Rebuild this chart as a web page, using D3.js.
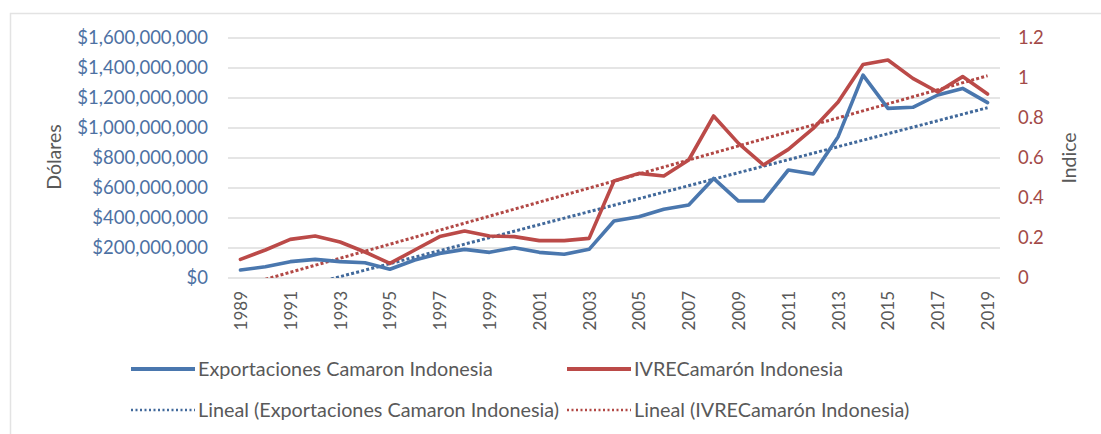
<!DOCTYPE html>
<html>
<head>
<meta charset="utf-8">
<script src="https://cdn.jsdelivr.net/npm/d3@7"></script>
<style>
  html, body { margin: 0; padding: 0; background: #ffffff; }
  svg { display: block; font-family: Lato, "Open Sans", sans-serif; }
</style>
</head>
<body>
<svg id="chart" width="1101" height="434"></svg>
<script>
// Years on the category axis
const years = [1989, 1990, 1991, 1992, 1993, 1994, 1995, 1996, 1997, 1998, 1999,
               2000, 2001, 2002, 2003, 2004, 2005, 2006, 2007, 2008, 2009,
               2010, 2011, 2012, 2013, 2014, 2015, 2016, 2017, 2018, 2019];

// Shrimp exports from Indonesia, US dollars
const exportaciones = [53e6, 75e6, 109e6, 124e6, 109e6, 102e6, 58e6, 120e6, 164e6, 191e6, 171e6,
                       202e6, 171e6, 158e6, 191e6, 380e6, 409e6, 458e6, 487e6, 664e6, 513e6,
                       513e6, 720e6, 693e6, 942e6, 1353e6, 1131e6, 1138e6, 1220e6, 1264e6, 1169e6];

// IVRE index for Indonesian shrimp
const ivre = [0.093, 0.14, 0.193, 0.21, 0.18, 0.13, 0.073, 0.14, 0.207, 0.235, 0.21,
              0.207, 0.187, 0.187, 0.198, 0.485, 0.523, 0.51, 0.59, 0.81, 0.673,
              0.565, 0.643, 0.748, 0.88, 1.068, 1.09, 0.998, 0.93, 1.007, 0.92];

// Axis ticks
const leftTicks = [0, 200e6, 400e6, 600e6, 800e6, 1000e6, 1200e6, 1400e6, 1600e6];
const rightTicks = [0, 0.2, 0.4, 0.6, 0.8, 1, 1.2];
const yearLabels = years.filter((d, i) => i % 2 === 0);

// Legend entries
const seriesNames = ["Exportaciones Camaron Indonesia", "IVRECamarón Indonesia"];
const trendNames = ["Lineal (Exportaciones Camaron Indonesia)", "Lineal (IVRECamarón Indonesia)"];

const BLUE = "#4a77ae";
const RED = "#bb4a48";
const BLUE_DOT = "#41699b";
const RED_DOT = "#b24845";
const GRID = "#dcdcdc";
const TEXT = "#595959";

const plot = { left: 228, right: 1000, top: 38, bottom: 278 };

const svg = d3.select("#chart");

// Outer frame (top and left edges visible)
svg.append("path")
  .attr("d", "M10.5,434 V13.5 H1101")
  .attr("fill", "none")
  .attr("stroke", "#e3e3e3")
  .attr("stroke-width", 1.5);

const x = d3.scalePoint().domain(years).range([plot.left, plot.right]).padding(0.5);
const yL = d3.scaleLinear().domain([0, 1.6e9]).range([plot.bottom, plot.top]);
const yR = d3.scaleLinear().domain([0, 1.2]).range([plot.bottom, plot.top]);

// Horizontal gridlines
svg.append("g")
  .selectAll("line")
  .data(leftTicks)
  .join("line")
  .attr("x1", plot.left).attr("x2", plot.right)
  .attr("y1", d => yL(d)).attr("y2", d => yL(d))
  .attr("stroke", GRID)
  .attr("stroke-width", 1.5);

// Left axis labels
const fmtDollar = v => "$" + d3.format(",")(v);
const leftAxis = svg.append("g")
  .attr("transform", `translate(${plot.left - 20},0)`)
  .call(d3.axisLeft(yL).tickValues(leftTicks).tickFormat(fmtDollar).tickSize(0).tickPadding(0));
leftAxis.select(".domain").remove();
leftAxis.selectAll("text")
  .attr("fill", "#4d71a3")
  .attr("font-size", 18.5)
  .attr("font-family", "Lato, sans-serif");

// Right axis labels
const rightAxis = svg.append("g")
  .attr("transform", `translate(${plot.right + 18},0)`)
  .call(d3.axisRight(yR).tickValues(rightTicks).tickFormat(d3.format("")).tickSize(0).tickPadding(0));
rightAxis.select(".domain").remove();
rightAxis.selectAll("text")
  .attr("fill", "#a34a48")
  .attr("font-size", 18.5)
  .attr("font-family", "Lato, sans-serif");

// Category axis: every other year, rotated
const bottomAxis = svg.append("g")
  .attr("transform", `translate(0,${plot.bottom})`)
  .call(d3.axisBottom(x).tickValues(yearLabels).tickSize(0).tickPadding(0));
bottomAxis.select(".domain").remove();
bottomAxis.selectAll("text")
  .attr("fill", TEXT)
  .attr("font-size", 17)
  .attr("font-family", "Lato, sans-serif")
  .attr("text-anchor", "end")
  .attr("dy", "0.35em")
  .attr("transform", "translate(0,13) rotate(-90)")
  .attr("x", 0).attr("y", 0);

// Axis titles
svg.append("text")
  .attr("transform", `translate(61,157) rotate(-90)`)
  .attr("text-anchor", "middle")
  .attr("fill", TEXT)
  .attr("font-size", 19.5)
  .text("Dólares");

svg.append("text")
  .attr("transform", `translate(1076,158) rotate(-90)`)
  .attr("text-anchor", "middle")
  .attr("fill", TEXT)
  .attr("font-size", 19.5)
  .text("Indice");

// Least-squares linear fit over the category index
function linearFit(values) {
  const n = values.length;
  const xs = d3.range(n);
  const mx = d3.mean(xs), my = d3.mean(values);
  let sxy = 0, sxx = 0;
  xs.forEach((xi, i) => { sxy += (xi - mx) * (values[i] - my); sxx += (xi - mx) * (xi - mx); });
  const slope = sxy / sxx;
  const intercept = my - slope * mx;
  return [intercept, intercept + slope * (n - 1)];
}

// Clip trendlines to the plot area
svg.append("defs").append("clipPath").attr("id", "plotClip")
  .append("rect")
  .attr("x", plot.left).attr("y", plot.top - 5)
  .attr("width", plot.right - plot.left).attr("height", plot.bottom - plot.top + 5);

const trendG = svg.append("g").attr("clip-path", "url(#plotClip)");

const fitExp = linearFit(exportaciones);
const fitIvre = linearFit(ivre);
const first = years[0], last = years[years.length - 1];

trendG.append("line")
  .attr("x1", x(first)).attr("y1", yL(fitExp[0]))
  .attr("x2", x(last)).attr("y2", yL(fitExp[1]))
  .attr("stroke", BLUE_DOT).attr("stroke-width", 3)
  .attr("stroke-dasharray", "3,2.2");

trendG.append("line")
  .attr("x1", x(first)).attr("y1", yR(fitIvre[0]))
  .attr("x2", x(last)).attr("y2", yR(fitIvre[1]))
  .attr("stroke", RED_DOT).attr("stroke-width", 3)
  .attr("stroke-dasharray", "3,2.2");

// Series lines
const lineL = d3.line().x((d, i) => x(years[i])).y(d => yL(d));
const lineR = d3.line().x((d, i) => x(years[i])).y(d => yR(d));

svg.append("path")
  .datum(exportaciones)
  .attr("d", lineL)
  .attr("fill", "none")
  .attr("stroke", BLUE).attr("stroke-width", 3.6)
  .attr("stroke-linejoin", "round").attr("stroke-linecap", "round");

svg.append("path")
  .datum(ivre)
  .attr("d", lineR)
  .attr("fill", "none")
  .attr("stroke", RED).attr("stroke-width", 3.6)
  .attr("stroke-linejoin", "round").attr("stroke-linecap", "round");

// Legend
const legendItems = [
  { name: seriesNames[0], color: BLUE, dotted: false, x: 131, y: 369 },
  { name: seriesNames[1], color: RED, dotted: false, x: 567, y: 369 },
  { name: trendNames[0], color: BLUE_DOT, dotted: true, x: 131, y: 410 },
  { name: trendNames[1], color: RED_DOT, dotted: true, x: 567, y: 410 }
];

const legend = svg.append("g");
legendItems.forEach(it => {
  const g = legend.append("g").attr("transform", `translate(${it.x},${it.y})`);
  g.append("line")
    .attr("x1", 0).attr("x2", 64).attr("y1", 0).attr("y2", 0)
    .attr("stroke", it.color)
    .attr("stroke-width", it.dotted ? 2.5 : 4)
    .attr("stroke-dasharray", it.dotted ? "2,2.5" : null);
  g.append("text")
    .attr("x", 67).attr("y", 0).attr("dy", "0.35em")
    .attr("fill", TEXT)
    .attr("font-size", 19.8)
    .text(it.name);
});
</script>
</body>
</html>
